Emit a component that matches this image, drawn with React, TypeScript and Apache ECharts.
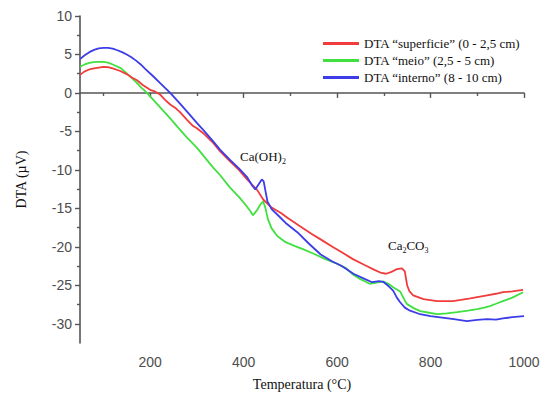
import React, { useEffect, useRef } from "react";
import * as echarts from "echarts";

const seriesNames = [
  "DTA \u201csuperficie\u201d (0 - 2,5 cm)",
  "DTA \u201cmeio\u201d (2,5 - 5 cm)",
  "DTA \u201cinterno\u201d (8 - 10 cm)",
];
const seriesColors = ["#f03c3c", "#40e040", "#3c3ce8"];

const xMajorTicks = [200, 400, 600, 800, 1000];
const xMinorTicks = [100, 300, 500, 700, 900];
const yMajorTicks = [-30, -25, -20, -15, -10, -5, 0, 5, 10];
const yMinorTicks = [-27.5, -22.5, -17.5, -12.5, -7.5, -2.5, 2.5, 7.5];

const redData: [number, number][] = [
  [50, 2.35], [60, 2.8], [70, 3.05], [80, 3.2], [90, 3.3], [100, 3.38], [110, 3.35],
  [120, 3.2], [136, 2.85], [150, 2.45], [160, 2.05], [172, 1.65], [185, 1.0], [200, 0.4],
  [210, 0.2], [221, -0.2], [232, -0.9], [243, -1.5], [255, -2.0], [264, -2.5], [279, -3.5],
  [292, -4.3], [300, -4.6], [313, -5.2], [335, -6.5], [350, -7.6], [371, -8.9],
  [390, -10.0], [407, -11.2], [418, -11.9], [429, -12.6], [442, -13.85], [460, -14.9],
  [480, -15.6], [493, -16.2], [520, -17.3], [545, -18.3], [564, -19.0], [590, -20.0],
  [610, -20.7], [634, -21.6], [660, -22.4], [680, -23.0], [695, -23.4], [705, -23.5],
  [715, -23.3], [728, -22.9], [739, -22.8], [745, -23.2], [750, -25.0], [755, -25.8],
  [763, -26.3], [785, -26.8], [814, -27.05], [848, -27.05], [865, -26.9], [885, -26.7],
  [921, -26.3], [940, -26.1], [955, -25.9], [975, -25.8], [998, -25.6],
];

const greenData: [number, number][] = [
  [50, 3.4], [60, 3.7], [70, 3.9], [80, 4.0], [90, 4.05], [100, 4.05], [110, 3.95],
  [120, 3.7], [138, 3.2], [150, 2.55], [160, 2.0], [170, 1.4], [180, 0.75], [190, 0.2],
  [206, -0.85], [222, -1.9], [243, -3.3], [260, -4.5], [279, -5.8], [300, -7.1],
  [320, -8.6], [335, -9.7], [350, -10.7], [371, -12.3], [390, -13.5], [405, -14.6],
  [415, -15.4], [420, -15.9], [428, -15.3], [436, -14.5], [442, -14.1], [447, -15.0],
  [452, -16.4], [460, -17.6], [472, -18.6], [490, -19.4], [510, -19.9], [527, -20.3],
  [550, -20.9], [575, -21.6], [600, -22.2], [620, -22.8], [634, -23.6], [650, -24.2],
  [670, -24.8], [690, -24.6], [698, -24.5], [710, -24.8], [720, -25.25], [735, -25.8],
  [745, -27.0], [750, -27.45], [765, -28.0], [778, -28.35], [800, -28.6], [814, -28.75],
  [835, -28.65], [857, -28.5], [880, -28.3], [900, -28.1], [915, -27.9], [927, -27.7],
  [940, -27.4], [955, -27.05], [975, -26.6], [998, -25.9],
];

const blueData: [number, number][] = [
  [50, 4.4], [60, 4.9], [70, 5.3], [80, 5.6], [90, 5.8], [100, 5.85], [110, 5.85],
  [120, 5.75], [130, 5.55], [140, 5.3], [150, 5.0], [160, 4.65], [170, 4.2], [180, 3.7],
  [190, 3.1], [206, 2.2], [221, 1.3], [243, 0.0], [264, -1.4], [280, -2.5], [300, -3.9],
  [315, -4.9], [335, -6.3], [350, -7.4], [371, -8.7], [390, -9.8], [407, -10.9],
  [418, -12.0], [425, -12.55], [432, -11.9], [439, -11.25], [443, -11.5], [447, -12.8],
  [451, -14.1], [460, -15.1], [472, -15.8], [490, -16.9], [515, -18.1], [540, -19.6],
  [565, -21.0], [590, -21.9], [610, -22.5], [635, -23.5], [660, -24.2], [675, -24.6],
  [690, -24.45], [700, -24.6], [710, -25.1], [720, -25.7], [728, -26.6], [735, -27.2],
  [745, -27.9], [756, -28.3], [775, -28.7], [800, -29.0], [825, -29.2], [850, -29.4],
  [878, -29.65], [900, -29.5], [921, -29.4], [940, -29.45], [955, -29.3], [975, -29.15],
  [1000, -29.0],
];

const allData = [redData, greenData, blueData];

const axisGray = "#555555";
const labelGray = "#4d4d4d";
const serif = "'Liberation Serif', 'DejaVu Serif', serif";
const sans = "'Liberation Sans', Arial, sans-serif";

export default function App() {
  const ref = useRef<HTMLDivElement>(null);

  useEffect(() => {
    if (!ref.current) return;
    const chart = echarts.init(ref.current, undefined, { renderer: "svg" });
    const xBase = { type: "value", min: 50, max: 1000, position: "bottom", splitLine: { show: false } };
    const yBase = { type: "value", min: -32.5, max: 10, position: "left", splitLine: { show: false } };
    chart.setOption({
      animation: false,
      backgroundColor: "#ffffff",
      grid: { left: 80, right: 24, top: 16, bottom: 52, containLabel: false },
      legend: {
        orient: "vertical",
        left: 318,
        top: 32,
        itemWidth: 36,
        itemHeight: 3,
        itemGap: 4,
        icon: "rect",
        data: seriesNames,
        textStyle: { fontFamily: serif, fontSize: 13, color: "#111" },
      },
      xAxis: [
        {
          ...xBase,
          name: "Temperatura (\u00b0C)",
          nameLocation: "middle",
          nameGap: 34,
          nameTextStyle: { fontFamily: serif, fontSize: 14, color: "#111" },
          axisLine: { show: true, lineStyle: { color: axisGray, width: 1.6 } },
          axisTick: { show: true, inside: false, length: 5, customValues: xMajorTicks, lineStyle: { color: axisGray, width: 1.4 } },
          axisLabel: {
            show: true,
            customValues: xMajorTicks,
            margin: 12,
            fontFamily: sans,
            fontSize: 14,
            color: labelGray,
            formatter: (v: number) => String(v),
          },
        },
        {
          ...xBase,
          axisLine: { show: false },
          axisTick: { show: true, inside: false, length: 3, customValues: xMinorTicks, lineStyle: { color: axisGray, width: 1.4 } },
          axisLabel: { show: false },
        },
      ],
      yAxis: [
        {
          ...yBase,
          name: "DTA (\u00b5V)",
          nameLocation: "middle",
          nameGap: 52,
          nameRotate: 90,
          nameTextStyle: { fontFamily: serif, fontSize: 14, color: "#111" },
          axisLine: { show: true, lineStyle: { color: axisGray, width: 1.6 } },
          axisTick: { show: true, inside: false, length: 5, customValues: yMajorTicks, lineStyle: { color: axisGray, width: 1.4 } },
          axisLabel: {
            show: true,
            customValues: yMajorTicks,
            margin: 8,
            fontFamily: sans,
            fontSize: 14,
            color: labelGray,
            formatter: (v: number) => String(v),
          },
        },
        {
          ...yBase,
          axisLine: { show: false },
          axisTick: { show: true, inside: false, length: 3, customValues: yMinorTicks, lineStyle: { color: axisGray, width: 1.4 } },
          axisLabel: { show: false },
        },
      ],
      series: allData.map((d, i) => ({
        name: seriesNames[i],
        type: "line",
        xAxisIndex: 0,
        yAxisIndex: 0,
        data: d,
        showSymbol: false,
        symbol: "none",
        color: seriesColors[i],
        lineStyle: { width: 1.8, color: seriesColors[i] },
        z: i === 1 ? 2 : i === 0 ? 3 : 4,
      })),
      graphic: [
        {
          type: "text",
          left: 240,
          top: 148,
          style: {
            text: "{m|Ca(OH)}{s|2}",
            rich: {
              m: { fontFamily: serif, fontSize: 13, fill: "#111", lineHeight: 16 },
              s: { fontFamily: serif, fontSize: 8, fill: "#111", lineHeight: 16, padding: [9, 0, 0, 0] },
            },
          },
        },
        {
          type: "text",
          left: 388,
          top: 237,
          style: {
            text: "{m|Ca}{s|2}{m|CO}{s|3}",
            rich: {
              m: { fontFamily: serif, fontSize: 13, fill: "#111", lineHeight: 16 },
              s: { fontFamily: serif, fontSize: 8, fill: "#111", lineHeight: 16, padding: [9, 0, 0, 0] },
            },
          },
        },
      ],
    });
    return () => chart.dispose();
  }, []);

  return (
    <div
      ref={ref}
      style={{ position: "fixed", left: 0, top: 0, width: 548, height: 396, background: "#fff" }}
    />
  );
}
